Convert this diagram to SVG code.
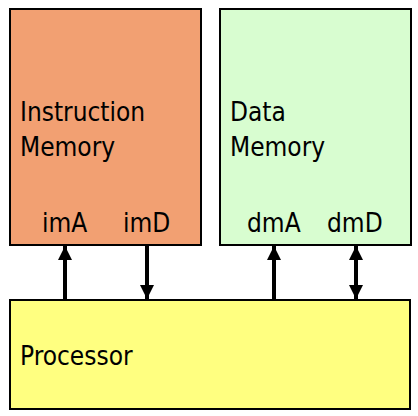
<svg xmlns="http://www.w3.org/2000/svg" width="418" height="416" viewBox="0 0 418 416">
<style>
.box{stroke:#000;stroke-width:2}
.t{font-family:"DejaVu Sans Condensed","DejaVu Sans",Tahoma,sans-serif;font-stretch:condensed;font-size:26px;fill:#000}
.w{stroke:#000;stroke-width:4;fill:none}
</style>
<defs>
<marker id="ah" viewBox="0 0 14 14" refX="14" refY="7" markerWidth="14" markerHeight="14" orient="auto-start-reverse" markerUnits="userSpaceOnUse">
<path d="M0,0 L14,7 L0,14 Z" fill="#000"/>
</marker>
</defs>
<rect x="0" y="0" width="418" height="416" fill="#fff"/>
<g id="instruction-memory">
<rect class="box" x="10" y="9" width="191" height="236" fill="#F2A072"/>
<text class="t" x="20" y="121">Instruction</text>
<text class="t" x="20" y="156">Memory</text>
<text class="t" x="42" y="232">imA</text>
<text class="t" x="123" y="232">imD</text>
</g>
<g id="data-memory">
<rect class="box" x="220" y="9" width="191" height="236" fill="#D8FDD0"/>
<text class="t" x="230" y="121">Data</text>
<text class="t" x="230" y="156">Memory</text>
<text class="t" x="247" y="232">dmA</text>
<text class="t" x="327" y="232">dmD</text>
</g>
<g id="processor">
<rect class="box" x="10" y="300" width="400" height="109" fill="#FFFF80"/>
<text class="t" x="20" y="365">Processor</text>
</g>
<g id="connectors">
<line class="w" x1="65" y1="299" x2="65" y2="246" marker-end="url(#ah)"/>
<line class="w" x1="147" y1="246" x2="147" y2="299" marker-end="url(#ah)"/>
<line class="w" x1="274" y1="299" x2="274" y2="246" marker-end="url(#ah)"/>
<line class="w" x1="356" y1="246" x2="356" y2="299" marker-start="url(#ah)" marker-end="url(#ah)"/>
</g>
</svg>
